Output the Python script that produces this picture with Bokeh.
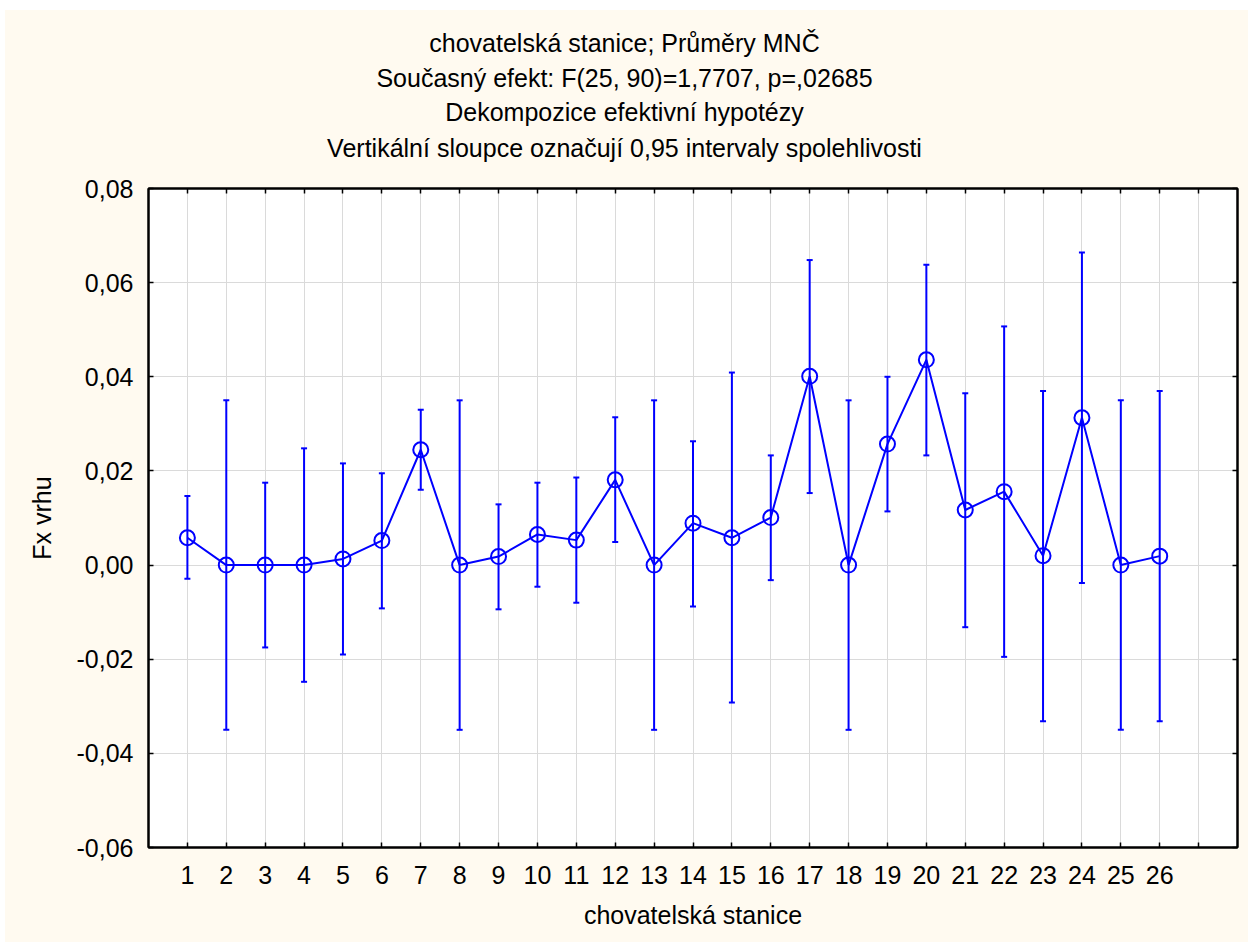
from bokeh.plotting import figure
from bokeh.layouts import column
from bokeh.models import (Range1d, LinearAxis, FixedTicker, Whisker, TeeHead,
                          ColumnDataSource, CustomJSTickFormatter)
from bokeh.core.properties import value
from bokeh.embed import file_html
from bokeh.resources import INLINE

# ---- data ----
stations = list(range(1, 27))
means = [0.0058, 0.0, 0.0, 0.0, 0.0013, 0.0052, 0.0245, 0.0, 0.0018, 0.0065,
         0.0053, 0.0181, 0.0, 0.0089, 0.0058, 0.0101, 0.0401, 0.0, 0.0257, 0.0436,
         0.0117, 0.0156, 0.0020, 0.0313, 0.0, 0.0019]
upper = [0.0147, 0.0350, 0.0175, 0.0248, 0.0216, 0.0195, 0.0330, 0.0350, 0.0129, 0.0175,
         0.0186, 0.0314, 0.0350, 0.0263, 0.0409, 0.0233, 0.0648, 0.0350, 0.0400, 0.0638,
         0.0365, 0.0507, 0.0370, 0.0664, 0.0350, 0.0370]
lower = [-0.0029, -0.0350, -0.0175, -0.0248, -0.0190, -0.0092, 0.0160, -0.0350, -0.0094, -0.0046,
         -0.0080, 0.0049, -0.0350, -0.0088, -0.0292, -0.0032, 0.0153, -0.0350, 0.0114, 0.0233,
         -0.0132, -0.0195, -0.0332, -0.0038, -0.0350, -0.0332]
x_ticks = stations + [27]
y_ticks = [-0.06, -0.04, -0.02, 0.0, 0.02, 0.04, 0.06, 0.08]
title_lines = [
    "chovatelská stanice; Průměry MNČ",
    "Současný efekt: F(25, 90)=1,7707, p=,02685",
    "Dekompozice efektivní hypotézy",
    "Vertikální sloupce označují 0,95 intervaly spolehlivosti",
]
x_title = "chovatelská stanice"
y_title = "Fx vrhu"

# ---- layout / style ----
FONT = "Liberation Sans"
FS = "25px"
BLUE = "#0000FF"
CREAM = "#FFFAF0"
BORDER_L, BORDER_R = 143, 11
FRAME_W, FRAME_H = 1089, 659
TOP_MARGIN, LEFT_MARGIN = 10, 5
TITLE_H = 156
PLOT_TOP = 178 - TITLE_H
# title band uses page-pixel coordinates (x: page column, y: page row)
title_rows = [42, 77, 111, 147]
page_center = 624

tf = figure(frame_width=FRAME_W, frame_height=TITLE_H,
            x_range=Range1d(LEFT_MARGIN + BORDER_L, LEFT_MARGIN + BORDER_L + FRAME_W),
            y_range=Range1d(TOP_MARGIN + TITLE_H, TOP_MARGIN),
            x_axis_type=None, y_axis_type=None,
            output_backend="svg", toolbar_location=None,
            min_border_left=BORDER_L, min_border_right=BORDER_R,
            min_border_top=0, min_border_bottom=0)
tf.grid.visible = False
tf.outline_line_color = None
tf.background_fill_color = CREAM
tf.border_fill_color = CREAM
tsrc = ColumnDataSource(dict(x=[page_center] * len(title_lines), y=title_rows,
                             text=title_lines))
tf.text("x", "y", text="text", source=tsrc, text_align="center", text_baseline="middle",
        text_font=value(FONT), text_font_size=value(FS), text_color="black")

# main plot
src = ColumnDataSource(dict(x=stations, mean=means, upper=upper, lower=lower))

p = figure(frame_width=FRAME_W, frame_height=FRAME_H,
           x_range=Range1d(0, 28), y_range=Range1d(-0.06, 0.08),
           output_backend="svg", toolbar_location=None,
           min_border_left=BORDER_L, min_border_right=BORDER_R,
           min_border_top=PLOT_TOP, min_border_bottom=95)
p.background_fill_color = "white"
p.border_fill_color = CREAM
p.outline_line_color = "black"
p.outline_line_width = 2

xt = FixedTicker(ticks=x_ticks)
yt = FixedTicker(ticks=y_ticks)

x_fmt = CustomJSTickFormatter(args=dict(n=len(stations)),
                              code="return tick > n ? '' : String(Math.round(tick));")
y_fmt = CustomJSTickFormatter(code="return tick.toFixed(2).replace('.', ',');")

p.xaxis.ticker = xt
p.xaxis.formatter = x_fmt
p.yaxis.ticker = yt
p.yaxis.formatter = y_fmt

for ax in (p.xaxis[0], p.yaxis[0]):
    ax.major_tick_in = 5
    ax.major_tick_out = 0
    ax.minor_tick_line_color = None
    ax.major_tick_line_color = "black"
    ax.major_tick_line_width = 1.5
    ax.axis_line_color = "black"
    ax.axis_line_width = 2
    ax.major_label_text_font = FONT
    ax.major_label_text_font_size = FS
    ax.major_label_text_color = "black"
    ax.axis_label_text_font = FONT
    ax.axis_label_text_font_size = FS
    ax.axis_label_text_font_style = "normal"
    ax.axis_label_text_color = "black"

p.xaxis.axis_label = x_title
p.yaxis.axis_label = y_title
p.xaxis.major_label_standoff = 18
p.xaxis.axis_label_standoff = 14
p.yaxis.major_label_standoff = 15
p.yaxis.axis_label_standoff = 18

# ticks on right and top (inside, no labels)
blank = CustomJSTickFormatter(code="return '';")
right_ax = LinearAxis(ticker=yt, formatter=blank, major_label_text_font_size="0px",
                      major_label_text_color=None, major_label_standoff=0,
                      major_tick_in=5, major_tick_out=0, minor_tick_line_color=None,
                      major_tick_line_width=1.5, axis_line_width=2)
top_ax = LinearAxis(ticker=xt, formatter=blank, major_label_text_font_size="0px",
                    major_label_text_color=None, major_label_standoff=0,
                    major_tick_in=5, major_tick_out=0, minor_tick_line_color=None,
                    major_tick_line_width=1.5, axis_line_width=2)
p.add_layout(right_ax, "right")
p.add_layout(top_ax, "above")

p.xgrid.ticker = xt
p.ygrid.ticker = yt
p.xgrid.grid_line_color = "#dadada"
p.ygrid.grid_line_color = "#dadada"
p.xgrid.grid_line_width = 1
p.ygrid.grid_line_width = 1

# error bars
wh = Whisker(base="x", upper="upper", lower="lower", source=src,
             line_color=BLUE, line_width=2,
             upper_head=TeeHead(size=6, line_color=BLUE, line_width=2),
             lower_head=TeeHead(size=6, line_color=BLUE, line_width=2))
p.add_layout(wh)

p.line("x", "mean", source=src, line_color=BLUE, line_width=2)
p.scatter("x", "mean", source=src, marker="circle", size=15,
          fill_alpha=0, line_color=BLUE, line_width=2)

page = column(tf, p, spacing=0, margin=(TOP_MARGIN, 0, 0, LEFT_MARGIN),
              styles={"background-color": CREAM})

open("out.html", "w").write(file_html(page, INLINE))
